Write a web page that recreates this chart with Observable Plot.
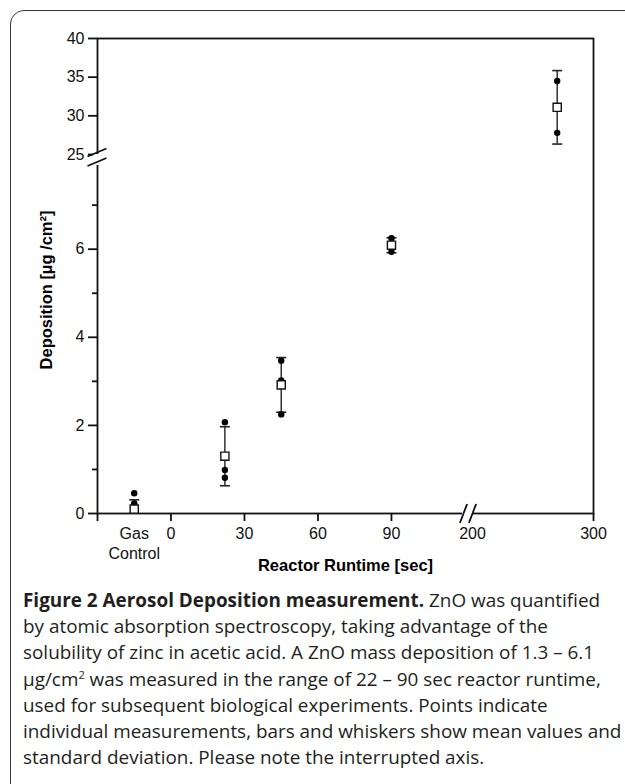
<!DOCTYPE html>
<html>
<head>
<meta charset="utf-8">
<script src="https://cdn.jsdelivr.net/npm/d3@7"></script>
<script src="https://cdn.jsdelivr.net/npm/@observablehq/plot@0.6"></script>
<style>
  html, body { margin: 0; padding: 0; background: #fff; }
  #page { position: relative; width: 625px; height: 784px; overflow: hidden; }
  #box {
    position: absolute; left: 10px; top: 10px; width: 640px; height: 790px;
    border: 1.6px solid #3a3a3a; border-radius: 14px 0 0 14px; box-sizing: border-box;
  }
  #chart { position: absolute; left: 0; top: 0; }
  #caption {
    position: absolute; left: 23px; top: 587px; width: 600px;
    font-family: "Open Sans", "Noto Sans", sans-serif; font-size: 18.9px; line-height: 26.2px;
    color: #231f20; white-space: nowrap;
  }
  #caption b { font-weight: 700; }
  #caption sup { font-size: 11px; line-height: 0; vertical-align: 7px; }
</style>
</head>
<body>
<div id="page">
  <div id="box"></div>
  <div id="chart"></div>
  <div id="caption">
    <b>Figure 2 Aerosol Deposition measurement.</b> ZnO was quantified<br>
    by atomic absorption spectroscopy, taking advantage of the<br>
    solubility of zinc in acetic acid. A ZnO mass deposition of 1.3 – 6.1<br>
    µg/cm<sup>2</sup> was measured in the range of 22 – 90 sec reactor runtime,<br>
    used for subsequent biological experiments. Points indicate<br>
    individual measurements, bars and whiskers show mean values and<br>
    standard deviation. Please note the interrupted axis.
  </div>
</div>
<script>
// Group summary: reactor runtime (s), mean deposition and standard deviation (µg/cm²).
// The gas control has no runtime; it sits in the slot left of 0 on the runtime axis.
const groupRuntime = [-15, 22, 45, 90, 270];
const groupMean = [0.10, 1.30, 2.92, 6.09, 31.1];
const groupSD = [0.21, 0.67, 0.62, 0.17, 4.75];

// Individual measurements
const pointRuntime = [-15, -15, 22, 22, 22, 45, 45, 45, 90, 90, 90, 270, 270];
const pointValue = [0.46, 0.23, 2.07, 0.99, 0.81, 3.47, 3.02, 2.25, 6.25, 6.08, 5.94, 34.5, 27.8];

// Axis ticks (both axes are interrupted)
const xTicks = [0, 30, 60, 90, 300];
const xTicksBeyondBreak = [200];
const yMajorTicks = [0, 2, 4, 6, 25, 30, 35, 40];
const yMinorTicks = [1, 3, 5, 7];
const gasControlLabel = "Gas\nControl";
const xTitle = "Reactor Runtime [sec]";
const yTitle = "Deposition [µg /cm²]";

// Segments of the broken axes: [low part] // [high part]
const xSegments = [[-30, 119], [200, 300]];
const ySegments = [[0, 7.9], [25, 40]];

const groups = groupRuntime.map((x, i) => ({
  x, mean: groupMean[i], sd: groupSD[i],
  lo: Math.max(0, groupMean[i] - groupSD[i]), hi: groupMean[i] + groupSD[i]
}));
const caps = groups.flatMap(g => [{x: g.x, y: g.hi}, ...(g.mean - g.sd >= 0 ? [{x: g.x, y: g.lo}] : [])]);
const points = pointRuntime.map((x, i) => ({x, y: pointValue[i]}));

// Short horizontal whisker cap drawn as a custom symbol
const capSymbol = {draw(ctx) { ctx.moveTo(-5, 0); ctx.lineTo(5, 0); }};

const W = 625, H = 580;
const plotLeft = 97, plotRight = 593, plotTop = 38, plotBottom = 513;
const tickFont = 16;

const chart = Plot.plot({
  width: W, height: H,
  marginLeft: plotLeft, marginRight: W - plotRight, marginTop: plotTop, marginBottom: H - plotBottom,
  style: {fontFamily: "'Liberation Sans', Arial, sans-serif", fontSize: "16px", color: "#111", background: "transparent"},
  x: {type: "linear", domain: [xSegments[0][0], xSegments[0][1], xSegments[1][0], xSegments[1][1]],
      range: [plotLeft, 462, 472, plotRight]},
  y: {type: "linear", domain: [ySegments[0][0], ySegments[0][1], ySegments[1][0], ySegments[1][1]],
      range: [plotBottom, 165, 154, plotTop]},
  marks: [
    Plot.axisY({ticks: yMajorTicks, tickSize: 9, tickPadding: 4, strokeWidth: 1.8, fontSize: tickFont, label: null}),
    Plot.axisY({ticks: yMinorTicks, tickSize: 5, strokeWidth: 1.8, tickFormat: () => "", label: null}),
    Plot.axisX({ticks: [xSegments[0][0], ...xTicks], tickSize: 8, tickPadding: 6, strokeWidth: 1.8, fontSize: tickFont,
                tickFormat: d => d === xSegments[0][0] ? "" : String(d), label: null}),
    Plot.axisX({ticks: xTicksBeyondBreak, tickSize: 0, tickPadding: 14, fontSize: tickFont, label: null}),
    Plot.text([gasControlLabel], {x: groupRuntime[0], y: 0, text: d => d, lineAnchor: "top",
                dy: 11, lineHeight: 1.25, fontSize: tickFont, fill: "#111"}),
    Plot.text([xTitle], {frameAnchor: "bottom", dy: 57, fontWeight: "bold", fontSize: 16.5, fill: "#000"}),
    Plot.text([yTitle], {frameAnchor: "left", textAnchor: "middle", dx: -51, dy: 14, rotate: -90,
                fontWeight: "bold", fontSize: 16.5, fill: "#000"}),
    Plot.frame({stroke: "#111", strokeWidth: 1.8}),
    Plot.ruleX(groups, {x: "x", y1: "lo", y2: "hi", stroke: "#222", strokeWidth: 1.4}),
    Plot.dot(caps, {x: "x", y: "y", symbol: capSymbol, stroke: "#222", strokeWidth: 1.6, fill: "none"}),
    Plot.dot(points, {x: "x", y: "y", r: 3.2, fill: "#000", stroke: "none"}),
    Plot.dot(groups, {x: "x", y: "mean", symbol: "square", r: 4.6, fill: "#fff", stroke: "#111", strokeWidth: 1.4})
  ]
});
document.getElementById("chart").appendChild(chart);

// Interruption marks on both axes, placed from the scales
const xs = chart.scale("x"), ys = chart.scale("y");
const svg = d3.select(chart);
const g = svg.append("g").attr("stroke", "#111").attr("stroke-width", 1.8);
const yAxis0 = ys.apply(0);
const xa = xs.apply(xSegments[0][1]), xb = xs.apply(xSegments[1][0]);
g.append("rect").attr("x", xa).attr("y", yAxis0 - 4).attr("width", xb - xa).attr("height", 8)
  .attr("fill", "#fff").attr("stroke", "none");
for (const cx of [xa + 1.5, xb + 0.5]) {
  g.append("line").attr("x1", cx - 3.6).attr("y1", yAxis0 + 10).attr("x2", cx + 3.6).attr("y2", yAxis0 - 9);
}
const xAxis0 = xs.apply(xSegments[0][0]);
const ya = ys.apply(ySegments[1][0]), yb = ys.apply(ySegments[0][1]);
g.append("rect").attr("x", xAxis0 - 4).attr("y", ya).attr("width", 8).attr("height", yb - ya)
  .attr("fill", "#fff").attr("stroke", "none");
for (const cy of [ya - 1.5, yb - 3]) {
  g.append("line").attr("x1", xAxis0 - 9.5).attr("y1", cy + 4).attr("x2", xAxis0 + 9.5).attr("y2", cy - 4);
}
</script>
</body>
</html>
